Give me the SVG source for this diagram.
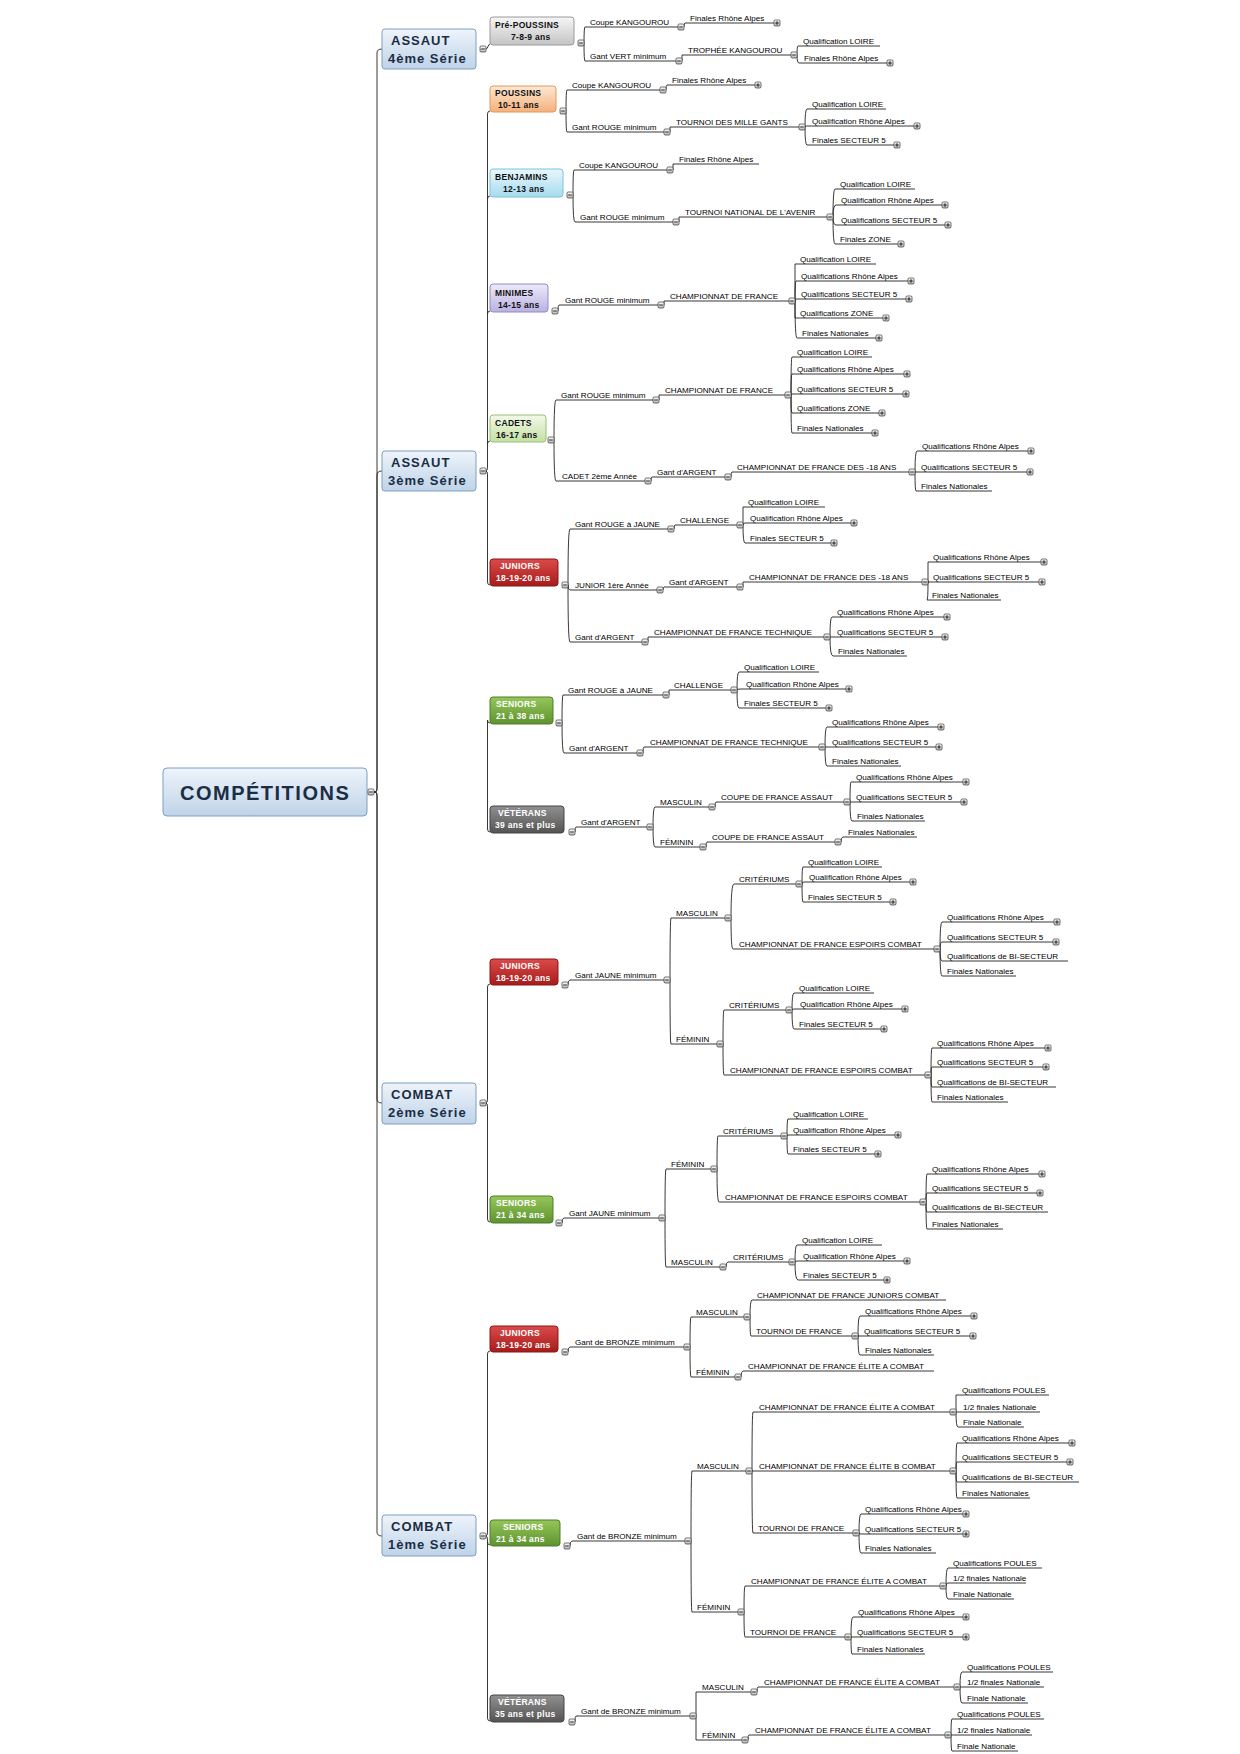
<svg xmlns="http://www.w3.org/2000/svg" xmlns:xlink="http://www.w3.org/1999/xlink" width="1240" height="1754" viewBox="0 0 1240 1754">
<defs>
<style>
.t{font-family:"Liberation Sans",Arial,sans-serif;font-size:8.1px;fill:#000}
.u,.k{stroke:#222;stroke-width:.9;fill:none}
.rt{font-family:"Liberation Sans",Arial,sans-serif;font-weight:bold;font-size:20px;letter-spacing:1.5px;fill:#1b2d44}
.mt{font-family:"Liberation Sans",Arial,sans-serif;font-weight:bold;font-size:13px;letter-spacing:1px;fill:#1b2d44}
.ct{font-family:"Liberation Sans",Arial,sans-serif;font-weight:bold;font-size:8.5px;letter-spacing:.3px;fill:#111}
.cw{fill:#fff}
.mb{fill:url(#gA);stroke:#7f9fbf;stroke-width:1}
</style>
<linearGradient id="gA" x1="0" y1="0" x2="0" y2="1"><stop offset="0" stop-color="#eef4fb"/><stop offset="1" stop-color="#bfd3e8"/></linearGradient>
<linearGradient id="gPP" x1="0" y1="0" x2="0" y2="1"><stop offset="0" stop-color="#f6f6f6"/><stop offset="1" stop-color="#c4c4c4"/></linearGradient>
<linearGradient id="gPO" x1="0" y1="0" x2="0" y2="1"><stop offset="0" stop-color="#fee8d4"/><stop offset="1" stop-color="#f5b07a"/></linearGradient>
<linearGradient id="gBE" x1="0" y1="0" x2="0" y2="1"><stop offset="0" stop-color="#e8f7fc"/><stop offset="1" stop-color="#a6dbee"/></linearGradient>
<linearGradient id="gMI" x1="0" y1="0" x2="0" y2="1"><stop offset="0" stop-color="#eceaf8"/><stop offset="1" stop-color="#bab1e2"/></linearGradient>
<linearGradient id="gCA" x1="0" y1="0" x2="0" y2="1"><stop offset="0" stop-color="#f2f9e8"/><stop offset="1" stop-color="#c4e0a4"/></linearGradient>
<linearGradient id="gJU" x1="0" y1="0" x2="0" y2="1"><stop offset="0" stop-color="#dc4a4a"/><stop offset="1" stop-color="#a51c1c"/></linearGradient>
<linearGradient id="gSE" x1="0" y1="0" x2="0" y2="1"><stop offset="0" stop-color="#96c65a"/><stop offset="1" stop-color="#5e9330"/></linearGradient>
<linearGradient id="gVE" x1="0" y1="0" x2="0" y2="1"><stop offset="0" stop-color="#909090"/><stop offset="1" stop-color="#545454"/></linearGradient>
<linearGradient id="gb" x1="0" y1="0" x2="0" y2="1"><stop offset="0" stop-color="#ffffff"/><stop offset="1" stop-color="#b9b9b9"/></linearGradient>
<g id="m"><rect x="-3" y="-3" width="6" height="6" rx="1.2" fill="url(#gb)" stroke="#333" stroke-width=".7"/><path d="M-1.8 0H1.8" stroke="#000" stroke-width=".8"/></g>
<g id="p"><rect x="-3" y="-3" width="6" height="6" rx="1.2" fill="url(#gb)" stroke="#333" stroke-width=".7"/><path d="M-1.8 0H1.8M0 -1.8V1.8" stroke="#000" stroke-width=".8"/></g>
</defs>
<rect width="1240" height="1754" fill="#fff"/>

<g id="connectors">
<path class="k" d="M374 792H375Q377 792 377 789V53Q377 49 382 49M374 792H375Q377 792 377 789V475Q377 471 382 471M374 792H375Q377 792 377 795V1099Q377 1103 382 1103M374 792H375Q377 792 377 795V1532Q377 1536 382 1536"/>
<path class="k" d="M486 49C488 49 488 44 490 44"/>
<path class="k" d="M486 471Q487.5 471 487.5 467V114Q487.5 111 490 111M487.5 199Q487.5 196 490 196M487.5 314Q487.5 311 490 311M487.5 444Q487.5 441 490 441M486 471Q487.5 471 487.5 475V582Q487.5 585 490 585M487.5 720Q487.5 723 490 723M487.5 720V829Q487.5 832 490 832"/>
<path class="k" d="M486 1103Q487.5 1103 487.5 1099V987Q487.5 984 490 984M486 1103Q487.5 1103 487.5 1107V1219Q487.5 1222 490 1222"/>
<path class="k" d="M486 1536Q487.5 1536 487.5 1532V1354Q487.5 1351 490 1351M486 1536Q487.5 1536 487.5 1540V1542Q487.5 1545 490 1545M487.5 1542V1718Q487.5 1721 490 1721"/>
<path class="k" d="M584 43Q584 27 585 27M584 43Q584 61 585 61M684 27Q684 23 685 23M682 61V55M797 55Q797 46 798 46M797 55Q797 63 799 63"/>
<path class="k" d="M566 111Q566 90 567 90M566 111Q566 132 567 132M666 90Q666 85 667 85M670 132V127M805 127Q805 109 807 109M805 127Q805 126 807 126M805 127Q805 145 807 145"/>
<path class="k" d="M573 195Q573 170 574 170M573 195Q573 222 575 222M673 170V164M679 222V217M833 217Q833 189 835 189M833 217Q833 205 836 205M833 217Q833 225 836 225M833 217Q833 244 835 244"/>
<path class="k" d="M558 311Q558 305 559 305M664 305V301M795 301V264M795 301Q795 281 796 281M795 301Q795 299 796 299M795 301V318M795 301Q795 338 797 338"/>
<path class="k" d="M554 440Q554 400 556 400M554 440Q554 481 556 481M659 400V395M791 395Q791 357 792 357M791 395Q791 374 792 374M791 395Q791 394 792 394M791 395Q791 413 792 413M791 395Q791 433 792 433M651 481Q651 477 652 477M731 477Q731 472 732 472M915 472Q915 451 917 451M915 472H916M915 472Q915 491 916 491"/>
<path class="k" d="M568 585Q568 529 570 529M568 585Q568 590 570 590M568 585Q568 642 570 642M674 529Q674 525 675 525M743 525V507M743 525Q743 523 745 523M743 525Q743 543 745 543M663 590Q663 587 664 587M743 587V582M928 582V562M928 582H929M928 582Q928 600 927 600M648 642V637M830 637Q830 617 832 617M830 637H832M830 637Q830 656 833 656"/>
<path class="k" d="M562 723Q562 695 563 695M562 723Q562 753 564 753M669 695V690M737 690Q737 672 739 672M737 690Q737 689 741 689M737 690Q737 708 739 708M643 753Q643 747 644 747M825 747Q825 727 827 727M825 747H827M825 747Q825 766 827 766"/>
<path class="k" d="M575 832Q575 827 576 827M653 827Q653 807 655 807M653 827Q653 847 655 847M715 807Q715 802 716 802M850 802Q850 782 851 782M850 802H851M850 802Q850 821 852 821M706 847Q706 842 707 842M841 842Q841 837 843 837"/>
<path class="k" d="M568 985Q568 980 570 980M670 980Q670 918 671 918M670 980Q670 1044 671 1044M731 918Q731 884 734 884M731 918Q731 949 733 949M802 884Q802 867 803 867M802 884Q802 882 804 882M802 884Q802 902 803 902M940 949Q940 922 942 922M940 949Q940 942 942 942M940 949Q940 961 942 961M940 949Q940 976 942 976M723 1044Q723 1010 724 1010M723 1044Q723 1075 724 1075M792 1010Q792 993 794 993M792 1010Q792 1009 795 1009M792 1010Q792 1029 794 1029M931 1075Q931 1048 932 1048M931 1075Q931 1067 932 1067M931 1075Q931 1087 932 1087M931 1075Q931 1102 932 1102"/>
<path class="k" d="M562 1223Q562 1218 564 1218M665 1218Q665 1169 666 1169M665 1218Q665 1267 666 1267M717 1169Q717 1136 718 1136M717 1169Q717 1202 719 1202M787 1136Q787 1119 788 1119M787 1136Q787 1135 788 1135M787 1136Q787 1154 788 1154M926 1202Q926 1174 927 1174M926 1202Q926 1193 927 1193M926 1202Q926 1212 927 1212M926 1202Q926 1229 927 1229M726 1267Q726 1262 728 1262M795 1262Q795 1245 797 1245M795 1262Q795 1261 798 1261M795 1262Q795 1280 798 1280"/>
<path class="k" d="M568 1352Q568 1347 570 1347M690 1347Q690 1317 691 1317M690 1347Q690 1377 691 1377M750 1317Q750 1300 752 1300M750 1317Q750 1336 751 1336M858 1336Q858 1316 860 1316M858 1336H859M858 1336Q858 1355 860 1355M741 1377Q741 1371 743 1371"/>
<path class="k" d="M570 1546Q570 1541 572 1541M691 1541Q691 1471 692 1471M691 1541Q691 1612 692 1612M752 1471Q752 1412 753 1412M752 1471H753M752 1471Q752 1533 753 1533M956 1412V1395M956 1412H958M956 1412Q956 1427 958 1427M956 1471Q956 1443 957 1443M956 1471Q956 1462 957 1462M956 1471Q956 1482 957 1482M956 1471Q956 1498 957 1498M859 1533Q859 1514 861 1514M859 1533Q859 1534 861 1534M859 1533Q859 1553 861 1553M744 1612Q744 1586 745 1586M744 1612Q744 1637 745 1637M946 1586Q946 1568 948 1568M946 1586Q946 1583 948 1583M946 1586Q946 1599 948 1599M851 1637Q851 1617 853 1617M851 1637H852M851 1637Q851 1654 852 1654"/>
<path class="k" d="M575 1722Q575 1716 576 1716M696 1716V1692M696 1716V1740M757 1692Q757 1687 758 1687M960 1687Q960 1672 962 1672M960 1687H962M960 1687Q960 1703 962 1703M748 1740Q748 1735 749 1735M951 1735Q951 1719 952 1719M951 1735H952M951 1735Q951 1751 952 1751"/>
</g>

<g id="root"><rect x="163" y="768" width="204" height="48" rx="4" class="mb"/><text x="180" y="799.5" class="rt">COMPÉTITIONS</text><use href="#m" x="371" y="792"/></g>

<g id="assaut4"><rect x="382" y="29" width="94" height="40" rx="3" class="mb"/><text x="391" y="45" class="mt">ASSAUT</text><text x="388" y="63" class="mt">4ème Série</text><use href="#m" x="483" y="49"/></g>
<g id="assaut3"><rect x="382" y="451" width="94" height="40" rx="3" class="mb"/><text x="391" y="467" class="mt">ASSAUT</text><text x="388" y="485" class="mt">3ème Série</text><use href="#m" x="483" y="471"/></g>
<g id="combat2"><rect x="382" y="1083" width="94" height="41" rx="3" class="mb"/><text x="391" y="1099" class="mt">COMBAT</text><text x="388" y="1117" class="mt">2ème Série</text><use href="#m" x="483" y="1103"/></g>
<g id="combat1"><rect x="382" y="1515" width="94" height="41" rx="3" class="mb"/><text x="391" y="1531" class="mt">COMBAT</text><text x="388" y="1549" class="mt">1ème Série</text><use href="#m" x="483" y="1536"/></g>

<g id="cat-prepoussins"><rect x="490" y="17" width="84" height="28" rx="3" fill="url(#gPP)" stroke="#9a9a9a"/><text x="495" y="28" class="ct">Pré-POUSSINS</text><text x="511" y="40" class="ct">7-8-9 ans</text><use href="#m" x="581" y="43"/></g>
<g id="cat-poussins"><rect x="490" y="86" width="66" height="26" rx="3" fill="url(#gPO)" stroke="#e09a5a"/><text x="495" y="96" class="ct">POUSSINS</text><text x="498" y="108" class="ct">10-11 ans</text><use href="#m" x="563" y="111"/></g>
<g id="cat-benjamins"><rect x="490" y="169" width="73" height="28" rx="3" fill="url(#gBE)" stroke="#7cc2da"/><text x="495" y="180" class="ct">BENJAMINS</text><text x="503" y="192" class="ct">12-13 ans</text><use href="#m" x="570" y="195"/></g>
<g id="cat-minimes"><rect x="490" y="284" width="58" height="28" rx="3" fill="url(#gMI)" stroke="#928ac6"/><text x="495" y="296" class="ct">MINIMES</text><text x="498" y="308" class="ct">14-15 ans</text><use href="#m" x="555" y="311"/></g>
<g id="cat-cadets"><rect x="490" y="415" width="56" height="27" rx="3" fill="url(#gCA)" stroke="#98c078"/><text x="495" y="426" class="ct">CADETS</text><text x="496" y="438" class="ct">16-17 ans</text><use href="#m" x="551" y="440"/></g>
<g id="cat-juniors-a"><rect x="490" y="559" width="68" height="27" rx="3" fill="url(#gJU)" stroke="#8c1616"/><text x="500" y="569" class="ct cw">JUNIORS</text><text x="496" y="581" class="ct cw">18-19-20 ans</text><use href="#m" x="565" y="585"/></g>
<g id="cat-seniors-a"><rect x="490" y="697" width="63" height="27" rx="3" fill="url(#gSE)" stroke="#4e7e26"/><text x="496" y="707" class="ct cw">SENIORS</text><text x="496" y="719" class="ct cw">21 à 38 ans</text><use href="#m" x="559" y="723"/></g>
<g id="cat-veterans-a"><rect x="490" y="806" width="74" height="27" rx="3" fill="url(#gVE)" stroke="#444"/><text x="498" y="816" class="ct cw">VÉTÉRANS</text><text x="495" y="828" class="ct cw">39 ans et plus</text><use href="#m" x="572" y="832"/></g>
<g id="cat-juniors-c2"><rect x="490" y="959" width="68" height="26" rx="3" fill="url(#gJU)" stroke="#8c1616"/><text x="500" y="969" class="ct cw">JUNIORS</text><text x="496" y="981" class="ct cw">18-19-20 ans</text><use href="#m" x="565" y="985"/></g>
<g id="cat-seniors-c2"><rect x="490" y="1196" width="63" height="27" rx="3" fill="url(#gSE)" stroke="#4e7e26"/><text x="496" y="1206" class="ct cw">SENIORS</text><text x="496" y="1218" class="ct cw">21 à 34 ans</text><use href="#m" x="559" y="1223"/></g>
<g id="cat-juniors-c1"><rect x="490" y="1326" width="68" height="26" rx="3" fill="url(#gJU)" stroke="#8c1616"/><text x="500" y="1336" class="ct cw">JUNIORS</text><text x="496" y="1348" class="ct cw">18-19-20 ans</text><use href="#m" x="565" y="1352"/></g>
<g id="cat-seniors-c1"><rect x="490" y="1520" width="70" height="26" rx="3" fill="url(#gSE)" stroke="#4e7e26"/><text x="503" y="1530" class="ct cw">SENIORS</text><text x="496" y="1542" class="ct cw">21 à 34 ans</text><use href="#m" x="567" y="1546"/></g>
<g id="cat-veterans-c1"><rect x="490" y="1695" width="74" height="27" rx="3" fill="url(#gVE)" stroke="#444"/><text x="498" y="1705" class="ct cw">VÉTÉRANS</text><text x="495" y="1717" class="ct cw">35 ans et plus</text><use href="#m" x="572" y="1722"/></g>

<g id="n-pp1"><path class="u" d="M585 27H678"/><text class="t" x="590" y="24.5">Coupe KANGOUROU</text><use href="#m" x="681" y="27"/></g>
<g id="n-pp1a"><path class="u" d="M685 23H774"/><text class="t" x="690" y="20.5">Finales Rhône Alpes</text><use href="#p" x="777" y="23"/></g>
<g id="n-pp2"><path class="u" d="M585 61H676"/><text class="t" x="590" y="58.5">Gant VERT minimum</text><use href="#m" x="679" y="61"/></g>
<g id="n-pp2a"><path class="u" d="M682 55H791"/><text class="t" x="688" y="52.5">TROPHÉE KANGOUROU</text><use href="#m" x="794" y="55"/></g>
<g id="n-pp2a1"><path class="u" d="M798 46H880"/><text class="t" x="803" y="43.5">Qualification LOIRE</text></g>
<g id="n-pp2a2"><path class="u" d="M799 63H887"/><text class="t" x="804" y="60.5">Finales Rhône Alpes</text><use href="#p" x="890" y="63"/></g>

<g id="n-po1"><path class="u" d="M567 90H660"/><text class="t" x="572" y="87.5">Coupe KANGOUROU</text><use href="#m" x="663" y="90"/></g>
<g id="n-po1a"><path class="u" d="M667 85H755"/><text class="t" x="672" y="82.5">Finales Rhône Alpes</text><use href="#p" x="758" y="85"/></g>
<g id="n-po2"><path class="u" d="M567 132H664"/><text class="t" x="572" y="129.5">Gant ROUGE minimum</text><use href="#m" x="667" y="132"/></g>
<g id="n-po2a"><path class="u" d="M670 127H799"/><text class="t" x="676" y="124.5">TOURNOI DES MILLE GANTS</text><use href="#m" x="802" y="127"/></g>
<g id="n-po2a1"><path class="u" d="M807 109H886"/><text class="t" x="812" y="106.5">Qualification LOIRE</text></g>
<g id="n-po2a2"><path class="u" d="M807 126H914"/><text class="t" x="812" y="123.5">Qualification Rhône Alpes</text><use href="#p" x="917" y="126"/></g>
<g id="n-po2a3"><path class="u" d="M807 145H894"/><text class="t" x="812" y="142.5">Finales SECTEUR 5</text><use href="#p" x="897" y="145"/></g>

<g id="n-be1"><path class="u" d="M574 170H667"/><text class="t" x="579" y="167.5">Coupe KANGOUROU</text><use href="#m" x="670" y="170"/></g>
<g id="n-be1a"><path class="u" d="M673 164H759"/><text class="t" x="679" y="161.5">Finales Rhône Alpes</text></g>
<g id="n-be2"><path class="u" d="M575 222H673"/><text class="t" x="580" y="219.5">Gant ROUGE minimum</text><use href="#m" x="676" y="222"/></g>
<g id="n-be2a"><path class="u" d="M679 217H827"/><text class="t" x="685" y="214.5">TOURNOI NATIONAL DE L'AVENIR</text><use href="#m" x="830" y="217"/></g>
<g id="n-be2a1"><path class="u" d="M835 189H915"/><text class="t" x="840" y="186.5">Qualification LOIRE</text></g>
<g id="n-be2a2"><path class="u" d="M836 205H942"/><text class="t" x="841" y="202.5">Qualification Rhône Alpes</text><use href="#p" x="945" y="205"/></g>
<g id="n-be2a3"><path class="u" d="M836 225H945"/><text class="t" x="841" y="222.5">Qualifications SECTEUR 5</text><use href="#p" x="948" y="225"/></g>
<g id="n-be2a4"><path class="u" d="M835 244H898"/><text class="t" x="840" y="241.5">Finales ZONE</text><use href="#p" x="901" y="244"/></g>

<g id="n-mi1"><path class="u" d="M559 305H658"/><text class="t" x="565" y="302.5">Gant ROUGE minimum</text><use href="#m" x="661" y="305"/></g>
<g id="n-mi1a"><path class="u" d="M664 301H789"/><text class="t" x="670" y="298.5">CHAMPIONNAT DE FRANCE</text><use href="#m" x="792" y="301"/></g>
<g id="n-mi1a1"><path class="u" d="M795 264H876"/><text class="t" x="800" y="261.5">Qualification LOIRE</text></g>
<g id="n-mi1a2"><path class="u" d="M796 281H908"/><text class="t" x="801" y="278.5">Qualifications Rhône Alpes</text><use href="#p" x="911" y="281"/></g>
<g id="n-mi1a3"><path class="u" d="M796 299H906"/><text class="t" x="801" y="296.5">Qualifications SECTEUR 5</text><use href="#p" x="909" y="299"/></g>
<g id="n-mi1a4"><path class="u" d="M795 318H883"/><text class="t" x="800" y="315.5">Qualifications ZONE</text><use href="#p" x="886" y="318"/></g>
<g id="n-mi1a5"><path class="u" d="M797 338H876"/><text class="t" x="802" y="335.5">Finales Nationales</text><use href="#p" x="879" y="338"/></g>

<g id="n-ca1"><path class="u" d="M556 400H653"/><text class="t" x="561" y="397.5">Gant ROUGE minimum</text><use href="#m" x="656" y="400"/></g>
<g id="n-ca1a"><path class="u" d="M659 395H785"/><text class="t" x="665" y="392.5">CHAMPIONNAT DE FRANCE</text><use href="#m" x="788" y="395"/></g>
<g id="n-ca1a1"><path class="u" d="M792 357H872"/><text class="t" x="797" y="354.5">Qualification LOIRE</text></g>
<g id="n-ca1a2"><path class="u" d="M792 374H904"/><text class="t" x="797" y="371.5">Qualifications Rhône Alpes</text><use href="#p" x="907" y="374"/></g>
<g id="n-ca1a3"><path class="u" d="M792 394H903"/><text class="t" x="797" y="391.5">Qualifications SECTEUR 5</text><use href="#p" x="906" y="394"/></g>
<g id="n-ca1a4"><path class="u" d="M792 413H879"/><text class="t" x="797" y="410.5">Qualifications ZONE</text><use href="#p" x="882" y="413"/></g>
<g id="n-ca1a5"><path class="u" d="M792 433H872"/><text class="t" x="797" y="430.5">Finales Nationales</text><use href="#p" x="875" y="433"/></g>
<g id="n-ca2"><path class="u" d="M556 481H645"/><text class="t" x="562" y="478.5">CADET 2ème Année</text><use href="#m" x="648" y="481"/></g>
<g id="n-ca2a"><path class="u" d="M652 477H725"/><text class="t" x="657" y="474.5">Gant d'ARGENT</text><use href="#m" x="728" y="477"/></g>
<g id="n-ca2a1"><path class="u" d="M732 472H909"/><text class="t" x="737" y="469.5">CHAMPIONNAT DE FRANCE DES -18 ANS</text><use href="#m" x="912" y="472"/></g>
<g id="n-ca2a1a"><path class="u" d="M917 451H1028"/><text class="t" x="922" y="448.5">Qualifications Rhône Alpes</text><use href="#p" x="1031" y="451"/></g>
<g id="n-ca2a1b"><path class="u" d="M916 472H1027"/><text class="t" x="921" y="469.5">Qualifications SECTEUR 5</text><use href="#p" x="1030" y="472"/></g>
<g id="n-ca2a1c"><path class="u" d="M916 491H992"/><text class="t" x="921" y="488.5">Finales Nationales</text></g>

<g id="n-ja1"><path class="u" d="M570 529H668"/><text class="t" x="575" y="526.5">Gant ROUGE à JAUNE</text><use href="#m" x="671" y="529"/></g>
<g id="n-ja1a"><path class="u" d="M675 525H737"/><text class="t" x="680" y="522.5">CHALLENGE</text><use href="#m" x="740" y="525"/></g>
<g id="n-ja1a1"><path class="u" d="M743 507H825"/><text class="t" x="748" y="504.5">Qualification LOIRE</text></g>
<g id="n-ja1a2"><path class="u" d="M745 523H851"/><text class="t" x="750" y="520.5">Qualification Rhône Alpes</text><use href="#p" x="854" y="523"/></g>
<g id="n-ja1a3"><path class="u" d="M745 543H831"/><text class="t" x="750" y="540.5">Finales SECTEUR 5</text><use href="#p" x="834" y="543"/></g>
<g id="n-ja2"><path class="u" d="M570 590H657"/><text class="t" x="575" y="587.5">JUNIOR 1ère Année</text><use href="#m" x="660" y="590"/></g>
<g id="n-ja2a"><path class="u" d="M664 587H737"/><text class="t" x="669" y="584.5">Gant d'ARGENT</text><use href="#m" x="740" y="587"/></g>
<g id="n-ja2a1"><path class="u" d="M743 582H922"/><text class="t" x="749" y="579.5">CHAMPIONNAT DE FRANCE DES -18 ANS</text><use href="#m" x="925" y="582"/></g>
<g id="n-ja2a1a"><path class="u" d="M928 562H1041"/><text class="t" x="933" y="559.5">Qualifications Rhône Alpes</text><use href="#p" x="1044" y="562"/></g>
<g id="n-ja2a1b"><path class="u" d="M928 582H1039"/><text class="t" x="933" y="579.5">Qualifications SECTEUR 5</text><use href="#p" x="1042" y="582"/></g>
<g id="n-ja2a1c"><path class="u" d="M927 600H1001"/><text class="t" x="932" y="597.5">Finales Nationales</text></g>
<g id="n-ja3"><path class="u" d="M570 642H642"/><text class="t" x="575" y="639.5">Gant d'ARGENT</text><use href="#m" x="645" y="642"/></g>
<g id="n-ja3a"><path class="u" d="M648 637H824"/><text class="t" x="654" y="634.5">CHAMPIONNAT DE FRANCE TECHNIQUE</text><use href="#m" x="827" y="637"/></g>
<g id="n-ja3a1"><path class="u" d="M832 617H944"/><text class="t" x="837" y="614.5">Qualifications Rhône Alpes</text><use href="#p" x="947" y="617"/></g>
<g id="n-ja3a2"><path class="u" d="M832 637H942"/><text class="t" x="837" y="634.5">Qualifications SECTEUR 5</text><use href="#p" x="945" y="637"/></g>
<g id="n-ja3a3"><path class="u" d="M833 656H907"/><text class="t" x="838" y="653.5">Finales Nationales</text></g>

<g id="n-sa1"><path class="u" d="M563 695H663"/><text class="t" x="568" y="692.5">Gant ROUGE à JAUNE</text><use href="#m" x="666" y="695"/></g>
<g id="n-sa1a"><path class="u" d="M669 690H731"/><text class="t" x="674" y="687.5">CHALLENGE</text><use href="#m" x="734" y="690"/></g>
<g id="n-sa1a1"><path class="u" d="M739 672H819"/><text class="t" x="744" y="669.5">Qualification LOIRE</text></g>
<g id="n-sa1a2"><path class="u" d="M741 689H846"/><text class="t" x="746" y="686.5">Qualification Rhône Alpes</text><use href="#p" x="849" y="689"/></g>
<g id="n-sa1a3"><path class="u" d="M739 708H826"/><text class="t" x="744" y="705.5">Finales SECTEUR 5</text><use href="#p" x="829" y="708"/></g>
<g id="n-sa2"><path class="u" d="M564 753H637"/><text class="t" x="569" y="750.5">Gant d'ARGENT</text><use href="#m" x="640" y="753"/></g>
<g id="n-sa2a"><path class="u" d="M644 747H819"/><text class="t" x="650" y="744.5">CHAMPIONNAT DE FRANCE TECHNIQUE</text><use href="#m" x="822" y="747"/></g>
<g id="n-sa2a1"><path class="u" d="M827 727H938"/><text class="t" x="832" y="724.5">Qualifications Rhône Alpes</text><use href="#p" x="941" y="727"/></g>
<g id="n-sa2a2"><path class="u" d="M827 747H936"/><text class="t" x="832" y="744.5">Qualifications SECTEUR 5</text><use href="#p" x="939" y="747"/></g>
<g id="n-sa2a3"><path class="u" d="M827 766H901"/><text class="t" x="832" y="763.5">Finales Nationales</text></g>

<g id="n-va1"><path class="u" d="M576 827H647"/><text class="t" x="581" y="824.5">Gant d'ARGENT</text><use href="#m" x="650" y="827"/></g>
<g id="n-va1a"><path class="u" d="M655 807H709"/><text class="t" x="660" y="804.5">MASCULIN</text><use href="#m" x="712" y="807"/></g>
<g id="n-va1a1"><path class="u" d="M716 802H844"/><text class="t" x="721" y="799.5">COUPE DE FRANCE ASSAUT</text><use href="#m" x="847" y="802"/></g>
<g id="n-va1a1a"><path class="u" d="M851 782H963"/><text class="t" x="856" y="779.5">Qualifications Rhône Alpes</text><use href="#p" x="966" y="782"/></g>
<g id="n-va1a1b"><path class="u" d="M851 802H961"/><text class="t" x="856" y="799.5">Qualifications SECTEUR 5</text><use href="#p" x="964" y="802"/></g>
<g id="n-va1a1c"><path class="u" d="M852 821H925"/><text class="t" x="857" y="818.5">Finales Nationales</text></g>
<g id="n-va1b"><path class="u" d="M655 847H700"/><text class="t" x="660" y="844.5">FÉMININ</text><use href="#m" x="703" y="847"/></g>
<g id="n-va1b1"><path class="u" d="M707 842H835"/><text class="t" x="712" y="839.5">COUPE DE FRANCE ASSAUT</text><use href="#m" x="838" y="842"/></g>
<g id="n-va1b1a"><path class="u" d="M843 837H917"/><text class="t" x="848" y="834.5">Finales Nationales</text></g>

<g id="n-jc1"><path class="u" d="M570 980H664"/><text class="t" x="575" y="977.5">Gant JAUNE minimum</text><use href="#m" x="667" y="980"/></g>
<g id="n-jc1a"><path class="u" d="M671 918H725"/><text class="t" x="676" y="915.5">MASCULIN</text><use href="#m" x="728" y="918"/></g>
<g id="n-jc1a1"><path class="u" d="M734 884H796"/><text class="t" x="739" y="881.5">CRITÉRIUMS</text><use href="#m" x="799" y="884"/></g>
<g id="n-jc1a1a"><path class="u" d="M803 867H882"/><text class="t" x="808" y="864.5">Qualification LOIRE</text></g>
<g id="n-jc1a1b"><path class="u" d="M804 882H910"/><text class="t" x="809" y="879.5">Qualification Rhône Alpes</text><use href="#p" x="913" y="882"/></g>
<g id="n-jc1a1c"><path class="u" d="M803 902H890"/><text class="t" x="808" y="899.5">Finales SECTEUR 5</text><use href="#p" x="893" y="902"/></g>
<g id="n-jc1a2"><path class="u" d="M733 949H934"/><text class="t" x="739" y="946.5">CHAMPIONNAT DE FRANCE ESPOIRS COMBAT</text><use href="#m" x="937" y="949"/></g>
<g id="n-jc1a2a"><path class="u" d="M942 922H1054"/><text class="t" x="947" y="919.5">Qualifications Rhône Alpes</text><use href="#p" x="1057" y="922"/></g>
<g id="n-jc1a2b"><path class="u" d="M942 942H1053"/><text class="t" x="947" y="939.5">Qualifications SECTEUR 5</text><use href="#p" x="1056" y="942"/></g>
<g id="n-jc1a2c"><path class="u" d="M942 961H1068"/><text class="t" x="947" y="958.5">Qualifications de BI-SECTEUR</text></g>
<g id="n-jc1a2d"><path class="u" d="M942 976H1016"/><text class="t" x="947" y="973.5">Finales Nationales</text></g>
<g id="n-jc1b"><path class="u" d="M671 1044H717"/><text class="t" x="676" y="1041.5">FÉMININ</text><use href="#m" x="720" y="1044"/></g>
<g id="n-jc1b1"><path class="u" d="M724 1010H786"/><text class="t" x="729" y="1007.5">CRITÉRIUMS</text><use href="#m" x="789" y="1010"/></g>
<g id="n-jc1b1a"><path class="u" d="M794 993H874"/><text class="t" x="799" y="990.5">Qualification LOIRE</text></g>
<g id="n-jc1b1b"><path class="u" d="M795 1009H902"/><text class="t" x="800" y="1006.5">Qualification Rhône Alpes</text><use href="#p" x="905" y="1009"/></g>
<g id="n-jc1b1c"><path class="u" d="M794 1029H881"/><text class="t" x="799" y="1026.5">Finales SECTEUR 5</text><use href="#p" x="884" y="1029"/></g>
<g id="n-jc1b2"><path class="u" d="M724 1075H925"/><text class="t" x="730" y="1072.5">CHAMPIONNAT DE FRANCE ESPOIRS COMBAT</text><use href="#m" x="928" y="1075"/></g>
<g id="n-jc1b2a"><path class="u" d="M932 1048H1045"/><text class="t" x="937" y="1045.5">Qualifications Rhône Alpes</text><use href="#p" x="1048" y="1048"/></g>
<g id="n-jc1b2b"><path class="u" d="M932 1067H1043"/><text class="t" x="937" y="1064.5">Qualifications SECTEUR 5</text><use href="#p" x="1046" y="1067"/></g>
<g id="n-jc1b2c"><path class="u" d="M932 1087H1056"/><text class="t" x="937" y="1084.5">Qualifications de BI-SECTEUR</text></g>
<g id="n-jc1b2d"><path class="u" d="M932 1102H1008"/><text class="t" x="937" y="1099.5">Finales Nationales</text></g>

<g id="n-sc1"><path class="u" d="M564 1218H659"/><text class="t" x="569" y="1215.5">Gant JAUNE minimum</text><use href="#m" x="662" y="1218"/></g>
<g id="n-sc1a"><path class="u" d="M666 1169H711"/><text class="t" x="671" y="1166.5">FÉMININ</text><use href="#m" x="714" y="1169"/></g>
<g id="n-sc1a1"><path class="u" d="M718 1136H781"/><text class="t" x="723" y="1133.5">CRITÉRIUMS</text><use href="#m" x="784" y="1136"/></g>
<g id="n-sc1a1a"><path class="u" d="M788 1119H868"/><text class="t" x="793" y="1116.5">Qualification LOIRE</text></g>
<g id="n-sc1a1b"><path class="u" d="M788 1135H895"/><text class="t" x="793" y="1132.5">Qualification Rhône Alpes</text><use href="#p" x="898" y="1135"/></g>
<g id="n-sc1a1c"><path class="u" d="M788 1154H875"/><text class="t" x="793" y="1151.5">Finales SECTEUR 5</text><use href="#p" x="878" y="1154"/></g>
<g id="n-sc1a2"><path class="u" d="M719 1202H920"/><text class="t" x="725" y="1199.5">CHAMPIONNAT DE FRANCE ESPOIRS COMBAT</text><use href="#m" x="923" y="1202"/></g>
<g id="n-sc1a2a"><path class="u" d="M927 1174H1039"/><text class="t" x="932" y="1171.5">Qualifications Rhône Alpes</text><use href="#p" x="1042" y="1174"/></g>
<g id="n-sc1a2b"><path class="u" d="M927 1193H1037"/><text class="t" x="932" y="1190.5">Qualifications SECTEUR 5</text><use href="#p" x="1040" y="1193"/></g>
<g id="n-sc1a2c"><path class="u" d="M927 1212H1048"/><text class="t" x="932" y="1209.5">Qualifications de BI-SECTEUR</text></g>
<g id="n-sc1a2d"><path class="u" d="M927 1229H1003"/><text class="t" x="932" y="1226.5">Finales Nationales</text></g>
<g id="n-sc1b"><path class="u" d="M666 1267H720"/><text class="t" x="671" y="1264.5">MASCULIN</text><use href="#m" x="723" y="1267"/></g>
<g id="n-sc1b1"><path class="u" d="M728 1262H789"/><text class="t" x="733" y="1259.5">CRITÉRIUMS</text><use href="#m" x="792" y="1262"/></g>
<g id="n-sc1b1a"><path class="u" d="M797 1245H882"/><text class="t" x="802" y="1242.5">Qualification LOIRE</text></g>
<g id="n-sc1b1b"><path class="u" d="M798 1261H904"/><text class="t" x="803" y="1258.5">Qualification Rhône Alpes</text><use href="#p" x="907" y="1261"/></g>
<g id="n-sc1b1c"><path class="u" d="M798 1280H884"/><text class="t" x="803" y="1277.5">Finales SECTEUR 5</text><use href="#p" x="887" y="1280"/></g>

<g id="n-jd1"><path class="u" d="M570 1347H684"/><text class="t" x="575" y="1344.5">Gant de BRONZE minimum</text><use href="#m" x="687" y="1347"/></g>
<g id="n-jd1a"><path class="u" d="M691 1317H744"/><text class="t" x="696" y="1314.5">MASCULIN</text><use href="#m" x="747" y="1317"/></g>
<g id="n-jd1a1"><path class="u" d="M752 1300H946"/><text class="t" x="757" y="1297.5">CHAMPIONNAT DE FRANCE JUNIORS COMBAT</text></g>
<g id="n-jd1a2"><path class="u" d="M751 1336H852"/><text class="t" x="756" y="1333.5">TOURNOI DE FRANCE</text><use href="#m" x="855" y="1336"/></g>
<g id="n-jd1a2a"><path class="u" d="M860 1316H971"/><text class="t" x="865" y="1313.5">Qualifications Rhône Alpes</text><use href="#p" x="974" y="1316"/></g>
<g id="n-jd1a2b"><path class="u" d="M858 1336H970"/><text class="t" x="864" y="1333.5">Qualifications SECTEUR 5</text><use href="#p" x="973" y="1336"/></g>
<g id="n-jd1a2c"><path class="u" d="M860 1355H934"/><text class="t" x="865" y="1352.5">Finales Nationales</text></g>
<g id="n-jd1b"><path class="u" d="M691 1377H735"/><text class="t" x="696" y="1374.5">FÉMININ</text><use href="#m" x="738" y="1377"/></g>
<g id="n-jd1b1"><path class="u" d="M743 1371H934"/><text class="t" x="748" y="1368.5">CHAMPIONNAT DE FRANCE ÉLITE A COMBAT</text></g>

<g id="n-sd1"><path class="u" d="M572 1541H685"/><text class="t" x="577" y="1538.5">Gant de BRONZE minimum</text><use href="#m" x="688" y="1541"/></g>
<g id="n-sd1a"><path class="u" d="M692 1471H746"/><text class="t" x="697" y="1468.5">MASCULIN</text><use href="#m" x="749" y="1471"/></g>
<g id="n-sd1a1"><path class="u" d="M753 1412H950"/><text class="t" x="759" y="1409.5">CHAMPIONNAT DE FRANCE ÉLITE A COMBAT</text><use href="#m" x="953" y="1412"/></g>
<g id="n-sd1a1a"><path class="u" d="M956 1395H1049"/><text class="t" x="962" y="1392.5">Qualifications POULES</text></g>
<g id="n-sd1a1b"><path class="u" d="M958 1412H1040"/><text class="t" x="963" y="1409.5">1/2 finales Nationale</text></g>
<g id="n-sd1a1c"><path class="u" d="M958 1427H1024"/><text class="t" x="963" y="1424.5">Finale Nationale</text></g>
<g id="n-sd1a2"><path class="u" d="M753 1471H950"/><text class="t" x="759" y="1468.5">CHAMPIONNAT DE FRANCE ÉLITE B COMBAT</text><use href="#m" x="953" y="1471"/></g>
<g id="n-sd1a2a"><path class="u" d="M957 1443H1069"/><text class="t" x="962" y="1440.5">Qualifications Rhône Alpes</text><use href="#p" x="1072" y="1443"/></g>
<g id="n-sd1a2b"><path class="u" d="M957 1462H1067"/><text class="t" x="962" y="1459.5">Qualifications SECTEUR 5</text><use href="#p" x="1070" y="1462"/></g>
<g id="n-sd1a2c"><path class="u" d="M957 1482H1079"/><text class="t" x="962" y="1479.5">Qualifications de BI-SECTEUR</text></g>
<g id="n-sd1a2d"><path class="u" d="M957 1498H1030"/><text class="t" x="962" y="1495.5">Finales Nationales</text></g>
<g id="n-sd1a3"><path class="u" d="M753 1533H853"/><text class="t" x="758" y="1530.5">TOURNOI DE FRANCE</text><use href="#m" x="856" y="1533"/></g>
<g id="n-sd1a3a"><path class="u" d="M861 1514H963"/><text class="t" x="865" y="1511.5">Qualifications Rhône Alpes</text><use href="#p" x="966" y="1514"/></g>
<g id="n-sd1a3b"><path class="u" d="M861 1534H963"/><text class="t" x="865" y="1531.5">Qualifications SECTEUR 5</text><use href="#p" x="966" y="1534"/></g>
<g id="n-sd1a3c"><path class="u" d="M861 1553H936"/><text class="t" x="865" y="1550.5">Finales Nationales</text></g>
<g id="n-sd1b"><path class="u" d="M692 1612H738"/><text class="t" x="697" y="1609.5">FÉMININ</text><use href="#m" x="741" y="1612"/></g>
<g id="n-sd1b1"><path class="u" d="M745 1586H940"/><text class="t" x="751" y="1583.5">CHAMPIONNAT DE FRANCE ÉLITE A COMBAT</text><use href="#m" x="943" y="1586"/></g>
<g id="n-sd1b1a"><path class="u" d="M948 1568H1042"/><text class="t" x="953" y="1565.5">Qualifications POULES</text></g>
<g id="n-sd1b1b"><path class="u" d="M948 1583H1026"/><text class="t" x="953" y="1580.5">1/2 finales Nationale</text></g>
<g id="n-sd1b1c"><path class="u" d="M948 1599H1014"/><text class="t" x="953" y="1596.5">Finale Nationale</text></g>
<g id="n-sd1b2"><path class="u" d="M745 1637H845"/><text class="t" x="750" y="1634.5">TOURNOI DE FRANCE</text><use href="#m" x="848" y="1637"/></g>
<g id="n-sd1b2a"><path class="u" d="M853 1617H963"/><text class="t" x="858" y="1614.5">Qualifications Rhône Alpes</text><use href="#p" x="966" y="1617"/></g>
<g id="n-sd1b2b"><path class="u" d="M852 1637H963"/><text class="t" x="857" y="1634.5">Qualifications SECTEUR 5</text><use href="#p" x="966" y="1637"/></g>
<g id="n-sd1b2c"><path class="u" d="M852 1654H925"/><text class="t" x="857" y="1651.5">Finales Nationales</text></g>

<g id="n-vd1"><path class="u" d="M576 1716H690"/><text class="t" x="581" y="1713.5">Gant de BRONZE minimum</text><use href="#m" x="693" y="1716"/></g>
<g id="n-vd1a"><path class="u" d="M696 1692H751"/><text class="t" x="702" y="1689.5">MASCULIN</text><use href="#m" x="754" y="1692"/></g>
<g id="n-vd1a1"><path class="u" d="M758 1687H954"/><text class="t" x="764" y="1684.5">CHAMPIONNAT DE FRANCE ÉLITE A COMBAT</text><use href="#m" x="957" y="1687"/></g>
<g id="n-vd1a1a"><path class="u" d="M962 1672H1053"/><text class="t" x="967" y="1669.5">Qualifications POULES</text></g>
<g id="n-vd1a1b"><path class="u" d="M962 1687H1044"/><text class="t" x="967" y="1684.5">1/2 finales Nationale</text></g>
<g id="n-vd1a1c"><path class="u" d="M962 1703H1028"/><text class="t" x="967" y="1700.5">Finale Nationale</text></g>
<g id="n-vd1b"><path class="u" d="M696 1740H742"/><text class="t" x="702" y="1737.5">FÉMININ</text><use href="#m" x="745" y="1740"/></g>
<g id="n-vd1b1"><path class="u" d="M749 1735H945"/><text class="t" x="755" y="1732.5">CHAMPIONNAT DE FRANCE ÉLITE A COMBAT</text><use href="#m" x="948" y="1735"/></g>
<g id="n-vd1b1a"><path class="u" d="M952 1719H1044"/><text class="t" x="957" y="1716.5">Qualifications POULES</text></g>
<g id="n-vd1b1b"><path class="u" d="M952 1735H1032"/><text class="t" x="957" y="1732.5">1/2 finales Nationale</text></g>
<g id="n-vd1b1c"><path class="u" d="M952 1751H1018"/><text class="t" x="957" y="1748.5">Finale Nationale</text></g>
</svg>
